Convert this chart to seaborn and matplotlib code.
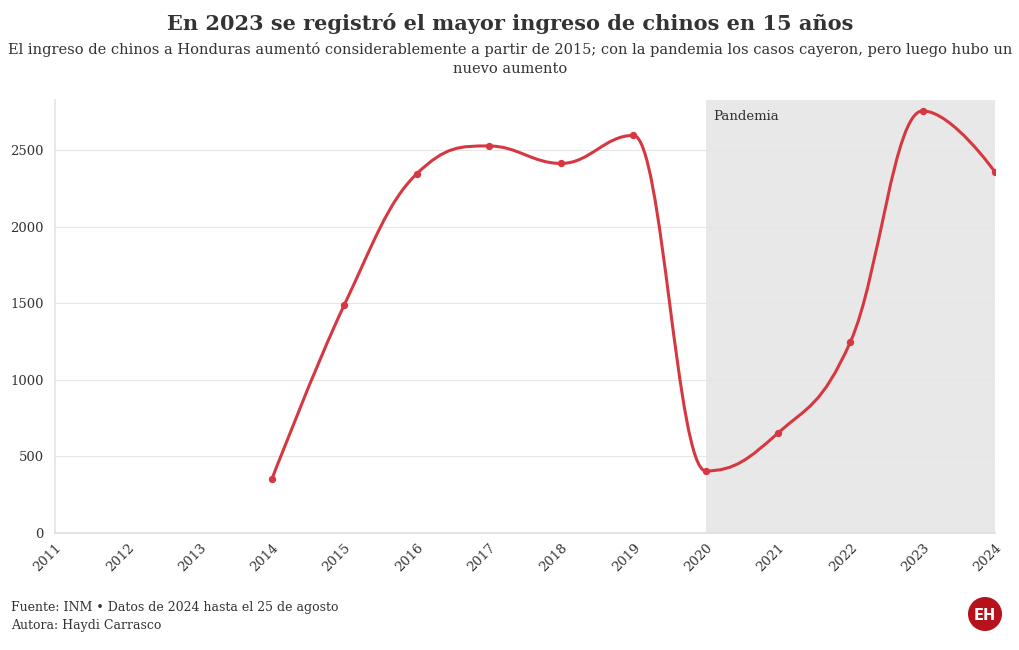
import numpy as np
import pandas as pd
import matplotlib
matplotlib.use("Agg")
import matplotlib.pyplot as plt
from matplotlib.path import Path
from matplotlib.patches import PathPatch, Ellipse
import seaborn as sns

years = [2014, 2015, 2016, 2017, 2018, 2019, 2020, 2021, 2022, 2023, 2024]
ingresos = [352, 1488, 2343, 2526, 2412, 2595, 405, 653, 1247, 2755, 2356]
xticks = list(range(2011, 2025))
yticks = [0, 500, 1000, 1500, 2000, 2500]

title = "En 2023 se registró el mayor ingreso de chinos en 15 años"
subtitle = ("El ingreso de chinos a Honduras aumentó considerablemente a partir de 2015; con la pandemia los casos cayeron, pero luego hubo un\n"
            "nuevo aumento")
footer1 = "Fuente: INM • Datos de 2024 hasta el 25 de agosto"
footer2 = "Autora: Haydi Carrasco"

RED = "#d63842"
TXT = "#333333"

sns.set_theme(style="white")
plt.rcParams["font.family"] = ["DejaVu Serif", "DejaVu Sans"]

df = pd.DataFrame({"anio": years, "ingresos": ingresos})

fig = plt.figure(figsize=(10.2, 6.5), dpi=100)
ax = fig.add_axes([55/1020, 117/650, 940/1020, 433/650])

ax.set_xlim(2011, 2024)
ax.set_ylim(0, 2826)

ax.axvspan(2020, 2024, color="#e8e8e8", zorder=0, lw=0)
ax.text(2020.1, 2720, "Pandemia", fontsize=9.5, color=TXT, va="center", ha="left")

# Highcharts-like spline through the data points (Bezier curves)
def spline_path(xs, ys, smoothing=1.5):
    n = len(xs)
    denom = smoothing + 1
    verts = [(xs[0], ys[0])]
    codes = [Path.MOVETO]
    ctrl = []
    for i in range(n):
        if i == 0 or i == n - 1:
            ctrl.append(((xs[i], ys[i]), (xs[i], ys[i])))
            continue
        px, py = xs[i], ys[i]
        lx, ly = xs[i-1], ys[i-1]
        nx, ny = xs[i+1], ys[i+1]
        lcx = (smoothing * px + lx) / denom
        lcy = (smoothing * py + ly) / denom
        rcx = (smoothing * px + nx) / denom
        rcy = (smoothing * py + ny) / denom
        if rcx != lcx:
            corr = ((rcy - lcy) * (rcx - px)) / (rcx - lcx) + py - rcy
            lcy += corr
            rcy += corr
        if lcy > ly and lcy > py:
            lcy = max(ly, py); rcy = 2 * py - lcy
        elif lcy < ly and lcy < py:
            lcy = min(ly, py); rcy = 2 * py - lcy
        if rcy > ny and rcy > py:
            rcy = max(ny, py); lcy = 2 * py - rcy
        elif rcy < ny and rcy < py:
            rcy = min(ny, py); lcy = 2 * py - rcy
        ctrl.append(((lcx, lcy), (rcx, rcy)))
    for i in range(1, n):
        verts += [ctrl[i-1][1], ctrl[i][0], (xs[i], ys[i])]
        codes += [Path.CURVE4] * 3
    return Path(verts, codes)

path = spline_path([float(v) for v in df["anio"]], [float(v) for v in df["ingresos"]])
ax.add_patch(PathPatch(path, facecolor="none", edgecolor=RED, lw=2.2, zorder=3, capstyle="round"))
sns.scatterplot(data=df, x="anio", y="ingresos", ax=ax, color=RED, s=28, edgecolor=RED, linewidth=0, zorder=4, legend=False)

ax.set_xticks(xticks)
ax.set_xticklabels([str(t) for t in xticks], rotation=45, fontsize=9.5, color=TXT)
ax.set_yticks(yticks)
ax.set_yticklabels([str(t) for t in yticks], fontsize=9.5, color=TXT)
ax.set_xlabel("")
ax.set_ylabel("")
ax.yaxis.grid(True, color="#e6e6e6", lw=0.8)
ax.set_axisbelow(True)
for s in ["top", "right"]:
    ax.spines[s].set_visible(False)
ax.spines["left"].set_color("#e6e6e6")
ax.spines["bottom"].set_color("#e0e0e0")
ax.tick_params(axis="x", length=4, color="#e0e0e0", pad=2)
ax.tick_params(axis="y", length=0, pad=8)
for lab in ax.get_xticklabels():
    lab.set_horizontalalignment("right")
    lab.set_rotation_mode("anchor")

fig.text(0.5, 1 - 24/650, title, ha="center", va="center", fontsize=15, fontweight="bold", color=TXT)
fig.text(0.5, 1 - 59/650, subtitle, ha="center", va="center", fontsize=10.5, color=TXT, linespacing=1.45)
fig.text(11/1020, 1 - 608/650, footer1, ha="left", va="center", fontsize=9, color=TXT)
fig.text(11/1020, 1 - 626/650, footer2, ha="left", va="center", fontsize=9, color=TXT)

logo = Ellipse((985/1020, 1 - 614/650), 34/1020, 34/650, transform=fig.transFigure,
               facecolor="#b5121b", edgecolor="none")
fig.add_artist(logo)
fig.text(985/1020, 1 - 615/650, "EH", ha="center", va="center", fontsize=10.5, fontweight="bold",
         color="white", family=["DejaVu Sans"])

fig.savefig("out.png", dpi=100)
